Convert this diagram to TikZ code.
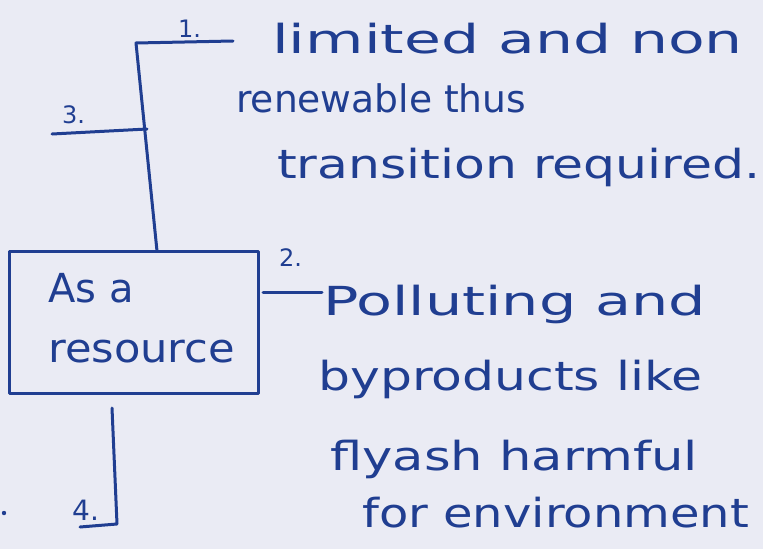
\documentclass[tikz,border=0pt]{standalone}
\usepackage{fontspec}
\setmainfont{DejaVu Sans}
\definecolor{ink}{RGB}{32,62,145}
\definecolor{paper}{RGB}{234,235,244}
% horizontal stretch of a written line
\newcommand{\wide}[2]{\scalebox{#1}[1]{#2}}
\begin{document}
\begin{tikzpicture}[x=1pt,y=-1pt,
  pen/.style={draw=ink,line width=3pt,line cap=round,line join=round},
  note/.style={text=ink,font=\fontsize{40}{42}\selectfont,inner sep=0pt,anchor=base west},
  tag/.style={text=ink,font=\fontsize{24}{26}\selectfont,inner sep=0pt,anchor=base west}]
  % sheet
  \fill[paper] (0,0) rectangle (763,549);
  \useasboundingbox (0,0) rectangle (763,549);

  % central box
  \node[pen,rectangle,minimum width=249pt,minimum height=142pt,inner sep=0pt] (res) at (134,322) {};
  \node[note] (res1) at (48,302) {\wide{1.0}{As a}};
  \node[note] (res2) at (48,362) {\wide{1.08}{resource}};

  % branch points
  \coordinate (top) at (157,251);
  \coordinate (corner) at (136,43);
  \coordinate (end1) at (233,41);
  \coordinate (split3) at (147,129);
  \coordinate (end3) at (52,134);
  \coordinate (start2) at (263,292);
  \coordinate (end2) at (322,292);
  \coordinate (start4) at (112,408);
  \coordinate (bend4) at (117,524);
  \coordinate (end4) at (80,527);

  % connectors
  \draw[pen] (top) -- (corner) -- (end1);
  \draw[pen] (split3) -- (end3);
  \draw[pen] (start2) -- (end2);
  \draw[pen] (start4) -- (bend4) -- (end4);

  % numbers
  \node[tag] (n1) at (178,37) {1.};
  \node[tag] (n3) at (62,123) {3.};
  \node[tag] (n2) at (279,266) {2.};
  \node[tag,font=\fontsize{28}{30}\selectfont] (n4) at (72,520) {4.};
  \fill[ink] (4,513) circle (2.2pt);

  % first point
  \node[note] (t1a) at (272,53) {\wide{1.5}{limited and non}};
  \node[note,font=\fontsize{38}{40}\selectfont] (t1b) at (236,112) {\wide{0.99}{renewable thus}};
  \node[note] (t1c) at (277,178) {\wide{1.26}{transition required.}};

  % second point
  \node[note] (t2a) at (323,315) {\wide{1.47}{Polluting and}};
  \node[note] (t2b) at (318,390) {\wide{1.26}{byproducts like}};
  \node[note] (t2c) at (330,470) {\wide{1.28}{flyash harmful}};
  \node[note] (t2d) at (362,527) {\wide{1.2}{for environment}};
\end{tikzpicture}
\end{document}
